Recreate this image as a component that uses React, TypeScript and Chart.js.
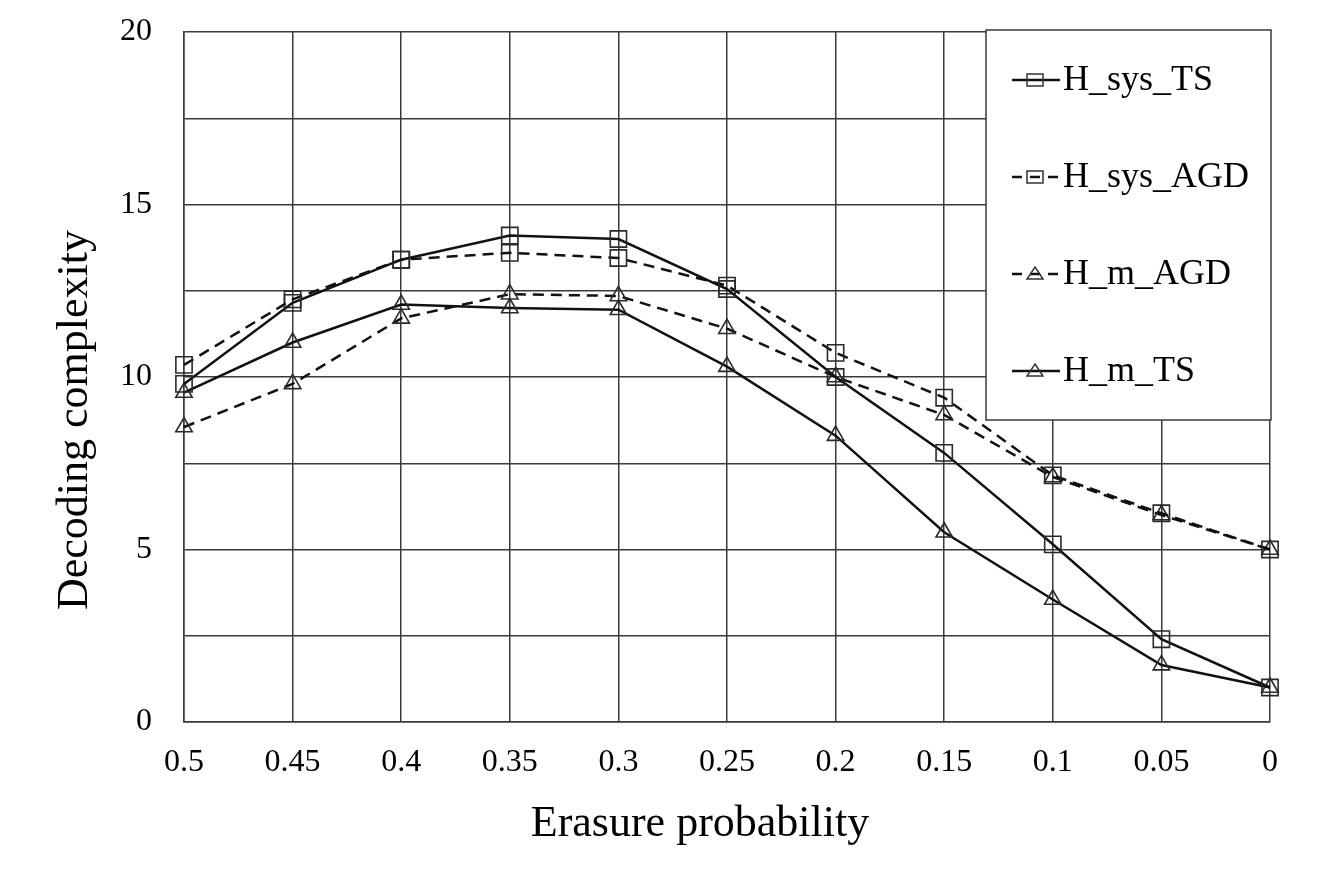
import React, { useEffect, useRef } from 'react';
import { Chart, registerables } from 'chart.js';

Chart.register(...registerables);

const categories = ['0.5', '0.45', '0.4', '0.35', '0.3', '0.25', '0.2', '0.15', '0.1', '0.05', '0'];
const hSysTS = [9.8, 12.15, 13.4, 14.1, 14.0, 12.55, 10.0, 7.8, 5.15, 2.4, 1.0];
const hSysAGD = [10.35, 12.25, 13.4, 13.6, 13.45, 12.65, 10.7, 9.4, 7.15, 6.05, 5.0];
const hMAGD = [8.55, 9.8, 11.7, 12.4, 12.35, 11.4, 10.0, 8.9, 7.1, 6.0, 5.0];
const hMTS = [9.55, 11.0, 12.1, 12.0, 11.95, 10.3, 8.3, 5.5, 3.55, 1.65, 1.0];
const seriesLabels = ['H_sys_TS', 'H_sys_AGD', 'H_m_AGD', 'H_m_TS'];
const xTitle = 'Erasure probability';
const yTitle = 'Decoding complexity';

const FONT = "'Liberation Serif', 'Times New Roman', serif";
const GRID = '#3a3a3a';
const LINE = '#111111';

const titlePlugin = {
  id: 'axisTitles',
  afterDraw(chart: any) {
    const ctx = chart.ctx as CanvasRenderingContext2D;
    const ca = chart.chartArea;
    ctx.save();
    ctx.fillStyle = '#000';
    ctx.font = `44px ${FONT}`;
    ctx.textAlign = 'center';
    ctx.textBaseline = 'alphabetic';
    ctx.fillText(xTitle, ca.left + 516, ca.bottom + 114);
    ctx.translate(ca.left - 97, ca.top + 388);
    ctx.rotate(-Math.PI / 2);
    ctx.fillText(yTitle, 0, 0);
    ctx.restore();
  },
};

const legendPlugin = {
  id: 'boxLegend',
  afterDatasetsDraw(chart: any) {
    const ctx = chart.ctx as CanvasRenderingContext2D;
    const ca = chart.chartArea;
    const x0 = ca.right - 284;
    const y0 = ca.top - 2;
    const w = 285;
    const h = 390;
    ctx.save();
    ctx.fillStyle = '#ffffff';
    ctx.fillRect(x0, y0, w, h);
    ctx.strokeStyle = GRID;
    ctx.lineWidth = 1.5;
    ctx.strokeRect(x0, y0, w, h);
    const items = chart.data.datasets;
    items.forEach((ds: any, i: number) => {
      const baseY = y0 + 60 + i * 97;
      const ly = baseY - 10;
      const lx0 = x0 + 26;
      const lx1 = x0 + 74;
      const mx = x0 + 49;
      ctx.strokeStyle = LINE;
      ctx.lineWidth = 2.5;
      ctx.setLineDash(ds.borderDash && ds.borderDash.length ? [10, 8] : []);
      ctx.beginPath();
      ctx.moveTo(lx0, ly);
      ctx.lineTo(lx1, ly);
      ctx.stroke();
      ctx.setLineDash([]);
      ctx.lineWidth = 1.5;
      ctx.strokeStyle = '#333';
      ctx.beginPath();
      if (ds.pointStyle === 'rect') {
        ctx.rect(mx - 8, ly - 6, 16, 12);
      } else {
        ctx.moveTo(mx, ly - 7);
        ctx.lineTo(mx + 8, ly + 5);
        ctx.lineTo(mx - 8, ly + 5);
        ctx.closePath();
      }
      ctx.stroke();
      ctx.fillStyle = '#000';
      ctx.font = `36px ${FONT}`;
      ctx.textAlign = 'left';
      ctx.textBaseline = 'alphabetic';
      ctx.fillText(ds.label, x0 + 77, baseY);
    });
    ctx.restore();
  },
};

export default function App() {
  const ref = useRef<HTMLCanvasElement | null>(null);
  useEffect(() => {
    if (!ref.current) return;
    const common = {
      borderColor: LINE,
      borderWidth: 2.5,
      pointBorderColor: '#2a2a2a',
      pointBackgroundColor: 'rgba(0,0,0,0)',
      pointBorderWidth: 1.6,
      tension: 0,
      fill: false,
    };
    const chart = new Chart(ref.current, {
      type: 'line',
      data: {
        labels: categories,
        datasets: [
          { ...common, label: seriesLabels[0], data: hSysTS, pointStyle: 'rect', pointRadius: 11.5, borderDash: [] },
          { ...common, label: seriesLabels[1], data: hSysAGD, pointStyle: 'rect', pointRadius: 11.5, borderDash: [11, 7] },
          { ...common, label: seriesLabels[2], data: hMAGD, pointStyle: 'triangle', pointRadius: 9.5, borderDash: [11, 7] },
          { ...common, label: seriesLabels[3], data: hMTS, pointStyle: 'triangle', pointRadius: 9.5, borderDash: [] },
        ],
      },
      options: {
        animation: false,
        responsive: false,
        layout: { padding: { left: 0, top: 32, right: 63, bottom: 0 } },
        plugins: { legend: { display: false }, tooltip: { enabled: false } },
        scales: {
          x: {
            type: 'category',
            offset: false,
            grid: { color: GRID, lineWidth: 1.5, drawTicks: false, offset: false },
            border: { color: GRID, width: 1.5 },
            ticks: { color: '#000', font: { family: FONT, size: 32 }, padding: 21, maxRotation: 0, autoSkip: false },
            title: { display: false, text: xTitle },
            afterFit: (s: any) => { s.height = 150; s.paddingLeft = 0; s.paddingRight = 0; },
          },
          y: {
            min: 0,
            max: 20,
            grid: { color: GRID, lineWidth: 1.5, drawTicks: false },
            border: { color: GRID, width: 1.5 },
            ticks: {
              stepSize: 2.5,
              autoSkip: false,
              color: '#000',
              font: { family: FONT, size: 32 },
              padding: 32,
              callback: (v: any) => (Number(v) % 5 === 0 ? String(v) : ''),
            },
            title: { display: false, text: yTitle },
            afterFit: (s: any) => { s.width = 184; s.paddingTop = 0; s.paddingBottom = 0; },
          },
        },
      },
      plugins: [legendPlugin, titlePlugin],
    } as any);
    return () => chart.destroy();
  }, []);
  return (
    <div style={{ position: 'absolute', left: 0, top: 0, width: 1333, height: 872, background: '#fff' }}>
      <canvas ref={ref} width={1333} height={872} style={{ display: 'block' }} />
    </div>
  );
}
